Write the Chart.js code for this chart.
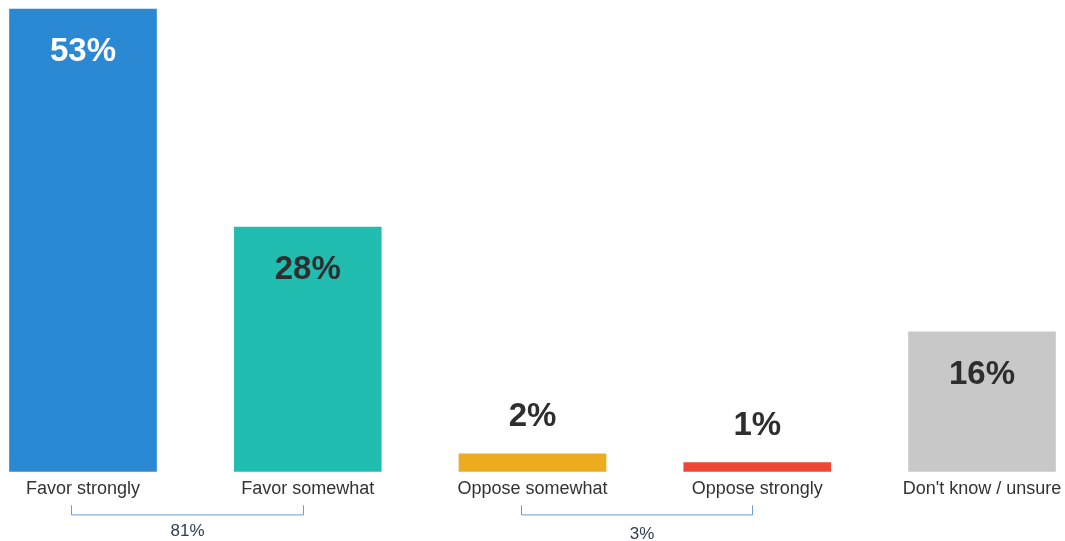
<!DOCTYPE html>
<html>
<head>
<meta charset="utf-8">
<script src="https://cdn.jsdelivr.net/npm/chart.js@4.4.1/dist/chart.umd.min.js"></script>
<style>
    html, body { margin: 0; padding: 0; background: #fff; }
    #wrap { width: 1065px; height: 541px; position: relative; }
</style>
</head>
<body>
<div id="wrap"><canvas id="surveyChart"></canvas></div>
<script>
// Survey data
const categories = ['Favor strongly', 'Favor somewhat', 'Oppose somewhat', 'Oppose strongly', "Don't know / unsure"];
const shares = [53, 28, 2, 1, 16];
const barColors = ['#2b88d3', '#21bdb1', '#edac20', '#ee4634', '#c8c8c8'];
const valueColors = ['#ffffff', '#2e2e2e', '#2e2e2e', '#2e2e2e', '#2e2e2e'];

// Net groups shown under the axis
const groupRanges = [[0, 1], [2, 3]];
const groupLabels = ['81%', '3%'];

// Value labels: inside tall bars, above short ones
const valueLabels = {
    id: 'valueLabels',
    afterDatasetsDraw(chart) {
        const ctx = chart.ctx;
        const meta = chart.getDatasetMeta(0);
        ctx.save();
        ctx.font = 'bold 33px "Liberation Sans", Arial, sans-serif';
        ctx.textAlign = 'center';
        ctx.textBaseline = 'middle';
        meta.data.forEach((bar, i) => {
            const v = shares[i];
            ctx.fillStyle = valueColors[i];
            const y = v >= 10 ? bar.y + 43 : bar.y - 37;
            ctx.fillText(v + '%', bar.x, y);
        });
        ctx.restore();
    }
};

// Brackets for the net groups
const groupBrackets = {
    id: 'groupBrackets',
    afterDraw(chart) {
        const ctx = chart.ctx;
        const xs = chart.scales.x;
        const base = chart.chartArea.bottom;
        ctx.save();
        groupRanges.forEach((range, i) => {
            const x1 = Math.round(xs.getPixelForValue(range[0]) - 12) + 0.5;
            const x2 = Math.round(xs.getPixelForValue(range[1]) - 5) + 0.5;
            const top = base + 34;
            const bottom = base + 43.5;
            ctx.strokeStyle = '#6a9bd1';
            ctx.lineWidth = 1;
            ctx.beginPath();
            ctx.moveTo(x1, top);
            ctx.lineTo(x1, bottom);
            ctx.lineTo(x2, bottom);
            ctx.lineTo(x2, top);
            ctx.stroke();

            ctx.fillStyle = '#2e3e55';
            ctx.font = '17px "Liberation Sans", Arial, sans-serif';
            ctx.textAlign = 'center';
            ctx.textBaseline = 'middle';
            ctx.fillText(groupLabels[i], (x1 + x2) / 2 + (i === 1 ? 5 : 0), bottom + 16 + i * 3);
        });
        ctx.restore();
    }
};

document.addEventListener('DOMContentLoaded', function() {
    const ctx = document.getElementById('surveyChart').getContext('2d');
    new Chart(ctx, {
        type: 'bar',
        data: {
            labels: categories,
            datasets: [{
                data: shares,
                backgroundColor: barColors,
                borderWidth: 0,
                barThickness: 147,
                clip: false
            }]
        },
        options: {
            responsive: true,
            maintainAspectRatio: false,
            animation: false,
            layout: {
                padding: { top: 9, left: 83, right: 83, bottom: 34 }
            },
            plugins: {
                legend: { display: false },
                tooltip: { enabled: false }
            },
            scales: {
                x: {
                    offset: false,
                    grid: { display: false, drawTicks: false },
                    border: { display: false },
                    afterFit(scale) {
                        // keep the edge labels from pushing the plot inward
                        scale.paddingLeft = 0;
                        scale.paddingRight = 0;
                    },
                    ticks: {
                        padding: 7,
                        maxRotation: 0,
                        autoSkip: false,
                        color: '#333333',
                        font: { family: '"Liberation Sans", Arial, sans-serif', size: 18 }
                    }
                },
                y: {
                    display: false,
                    min: 0,
                    max: 53
                }
            }
        },
        plugins: [valueLabels, groupBrackets]
    });
});
</script>
</body>
</html>
